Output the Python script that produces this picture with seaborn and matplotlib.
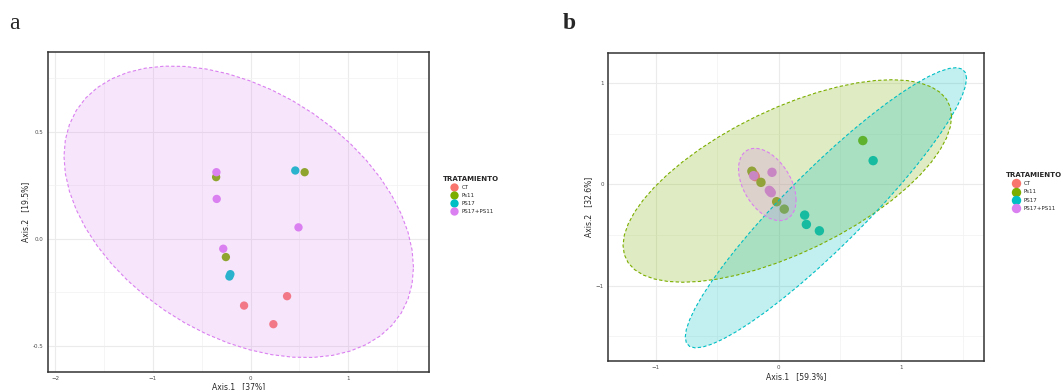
import numpy as np
import pandas as pd
import matplotlib
matplotlib.use("Agg")
import matplotlib.pyplot as plt
from matplotlib.ticker import MultipleLocator
import seaborn as sns

groups = ["CT", "Ps11", "PS17", "PS17+PS11"]
colors = ["#F8766D", "#7CAE00", "#00BFC4", "#DA80F0"]

# panel a (Axis.1 37%, Axis.2 19.5%)
a_group = ["CT", "CT", "CT",
           "Ps11", "Ps11", "Ps11",
           "PS17", "PS17", "PS17",
           "PS17+PS11", "PS17+PS11", "PS17+PS11", "PS17+PS11"]
a_x = [-0.067, 0.373, 0.233,
       -0.353, 0.553, -0.253,
       0.457, -0.207, -0.217,
       -0.350, -0.347, 0.490, -0.280]
a_y = [-0.313, -0.269, -0.400,
       0.288, 0.311, -0.086,
       0.319, -0.166, -0.177,
       0.311, 0.186, 0.053, -0.047]
a_ellipses = ["PS17+PS11"]

# panel b (Axis.1 59.3%, Axis.2 32.6%)
b_group = ["CT", "CT", "CT",
           "Ps11", "Ps11", "Ps11", "Ps11", "Ps11",
           "PS17", "PS17", "PS17", "PS17",
           "PS17+PS11", "PS17+PS11", "PS17+PS11", "PS17+PS11", "PS17+PS11"]
b_x = [-0.212, -0.196, -0.190,
       -0.218, -0.144, -0.016, 0.046, 0.686,
       0.770, 0.212, 0.226, 0.332,
       -0.054, -0.076, -0.068, -0.060, -0.204]
b_y = [0.115, 0.092, 0.076,
       0.130, 0.020, -0.171, -0.244, 0.432,
       0.234, -0.303, -0.395, -0.458,
       0.119, -0.059, -0.070, -0.082, 0.086]
b_ellipses = ["Ps11", "PS17", "PS17+PS11"]


def ellipse_xy(x, y, level=0.95, segments=51):
    # same recipe as ggplot2 stat_ellipse: centre + radius * circle %*% chol(cov)
    pts = np.column_stack([x, y])
    dfd = len(pts) - 1
    fq = dfd / 2 * ((1 - level) ** (-2 / dfd) - 1)  # qf(level, 2, dfd)
    radius = np.sqrt(2 * fq)
    upper = np.linalg.cholesky(np.cov(pts, rowvar=False)).T
    t = np.linspace(0, 2 * np.pi, segments)
    circle = np.column_stack([np.cos(t), np.sin(t)])
    return pts.mean(axis=0) + radius * circle @ upper


def draw_panel(ax, df, ell_groups, xlab, ylab, size, fill_alpha, leg_x):
    pal = dict(zip(groups, colors))
    sns.scatterplot(data=df, x="x", y="y", hue="grp", hue_order=groups,
                    palette=pal, s=size, linewidth=0, ax=ax, zorder=2)
    for g in ell_groups:
        sub = df[df["grp"] == g]
        e = ellipse_xy(sub["x"].values, sub["y"].values)
        ax.fill(e[:, 0], e[:, 1], color=pal[g], alpha=fill_alpha, lw=0, zorder=3)
        ax.plot(e[:, 0], e[:, 1], color=pal[g], ls=(0, (3, 2)), lw=0.8, zorder=4)
    ax.set_xlabel(xlab, fontsize=5.5, labelpad=1)
    ax.set_ylabel(ylab, fontsize=5.5, labelpad=2)
    ax.xaxis.set_minor_locator(MultipleLocator(0.5))
    ax.grid(True, which="major", color="#EBEBEB", lw=0.8, zorder=0)
    ax.grid(True, which="minor", color="#F2F2F2", lw=0.5, zorder=0)
    ax.set_axisbelow(True)
    ax.tick_params(which="major", labelsize=4, length=2, width=0.5,
                   color="#333333", labelcolor="#4D4D4D", pad=1)
    ax.tick_params(which="minor", length=0)
    for sp in ax.spines.values():
        sp.set_color("#333333")
        sp.set_linewidth(1.1)
    sns.move_legend(ax, "upper left", bbox_to_anchor=(leg_x, 0.62),
                    title="TRATAMIENTO", frameon=False, fontsize=4,
                    title_fontsize=5, handletextpad=0.4, labelspacing=0.55,
                    borderaxespad=0)
    ax.get_legend().get_title().set_fontweight("bold")


sns.set_style("whitegrid")
plt.rcParams["font.family"] = ["DejaVu Sans"]

fig = plt.figure(figsize=(10.63, 3.9), dpi=100)
ax_a = fig.add_axes([0.045, 0.046, 0.359, 0.821])
ax_b = fig.add_axes([0.572, 0.074, 0.354, 0.790])

df_a = pd.DataFrame({"grp": a_group, "x": a_x, "y": a_y})
df_b = pd.DataFrame({"grp": b_group, "x": b_x, "y": b_y})

draw_panel(ax_a, df_a, a_ellipses, "Axis.1   [37%]", "Axis.2   [19.5%]", 36, 0.2, 1.03)
ax_a.set_xlim(-2.075, 1.83)
ax_a.set_ylim(-0.624, 0.874)
ax_a.set_xticks([-2, -1, 0, 1])
ax_a.set_yticks([-0.5, 0.0, 0.5])
ax_a.set_yticklabels(["-0.5", "0.0", "0.5"])
ax_a.yaxis.set_minor_locator(MultipleLocator(0.25))

draw_panel(ax_b, df_b, b_ellipses, "Axis.1   [59.3%]", "Axis.2   [32.6%]", 46, 0.24, 1.05)
ax_b.set_xlim(-1.39, 1.676)
ax_b.set_ylim(-1.743, 1.295)
ax_b.set_xticks([-1, 0, 1])
ax_b.set_yticks([-1, 0, 1])
ax_b.yaxis.set_minor_locator(MultipleLocator(0.5))

fig.text(0.009, 0.925, "a", fontsize=17, family="Liberation Serif")
fig.text(0.529, 0.925, "b", fontsize=17, family="Liberation Serif", fontweight="bold")

fig.savefig("out.png", dpi=100)
